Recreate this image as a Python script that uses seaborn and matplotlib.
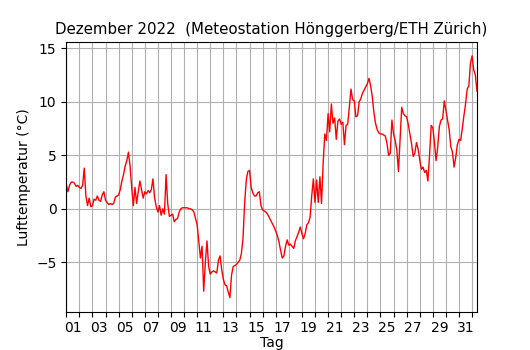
import numpy as np
import pandas as pd
import matplotlib
matplotlib.use("Agg")
import matplotlib.pyplot as plt
import matplotlib.dates as mdates
import seaborn as sns

temp_dec = [
    2.3, 1.6, 2.2, 2.5, 2.5, 2.4, 2.1, 2.2,      # 01
    2.0, 1.9, 2.2, 3.8, 1.2, 0.3, 1.0, 0.2,      # 02
    0.3, 0.9, 0.8, 1.2, 0.8, 0.7, 1.3, 1.6,      # 03
    0.8, 0.6, 0.4, 0.5, 0.4, 0.5, 1.1, 1.2,      # 04
    1.3, 1.8, 2.6, 3.2, 4.0, 4.5, 5.3, 4.0,      # 05
    2.0, 0.3, 2.0, 0.5, 1.6, 2.6, 1.8, 1.0,      # 06
    1.6, 1.4, 1.7, 1.5, 1.8, 2.8, 1.0, 0.2,      # 07
    -0.3, 0.3, -0.6, 0.0, -0.5, 3.2, 0.5, -0.7,  # 08
    -0.6, -0.5, -1.2, -1.0, -0.9, -0.3, 0.0, 0.1,  # 09
    0.1, 0.1, 0.1, 0.0, 0.0, -0.1, -0.3, -0.9,   # 10
    -1.5, -3.0, -4.6, -3.5, -7.7, -5.0, -3.0, -5.4,  # 11
    -6.1, -5.9, -5.8, -5.9, -6.0, -4.8, -4.4, -5.7,  # 12
    -6.6, -7.1, -7.2, -7.8, -8.3, -6.2, -5.4, -5.3,  # 13
    -5.2, -5.0, -4.8, -4.2, -2.8, 0.5, 2.7, 3.5,     # 14
    3.6, 2.0, 1.5, 1.2, 1.2, 1.5, 1.6, 0.3,          # 15
    -0.1, -0.2, -0.3, -0.5, -0.8, -1.1, -1.4, -1.7,  # 16
    -2.1, -2.5, -3.1, -3.9, -4.6, -4.4, -3.5, -2.9,  # 17
    -3.4, -3.3, -3.5, -3.7, -3.0, -2.6, -2.2, -1.7,  # 18
    -2.3, -2.8, -2.3, -1.5, -1.3, -0.8, 1.2, 2.8,    # 19
    0.6, 2.7, 0.6, 3.0, 0.5, 4.3, 7.0, 6.4,          # 20
    8.9, 7.2, 9.8, 8.0, 8.5, 6.5, 8.2, 8.4,          # 21
    7.9, 8.1, 6.0, 7.8, 7.9, 9.5, 11.2, 10.2,        # 22
    10.1, 8.6, 8.7, 10.0, 10.3, 10.8, 11.1, 11.4,    # 23
    11.7, 12.2, 11.5, 10.5, 9.0, 8.0, 7.4, 7.1,      # 24
    7.0, 7.0, 6.9, 6.8, 6.1, 5.0, 5.2, 8.3,          # 25
    7.0, 6.4, 5.5, 3.5, 6.5, 9.5, 8.9, 8.7,          # 26
    8.6, 7.9, 7.0, 6.1, 4.9, 5.2, 6.2, 5.6,          # 27
    4.6, 3.7, 3.9, 3.4, 3.6, 2.6, 5.0, 7.8,          # 28
    7.6, 6.2, 4.5, 5.8, 7.7, 8.3, 8.4, 10.1,         # 29
    9.2, 8.3, 7.4, 5.8, 5.3, 3.9, 4.8, 6.0,          # 30
    6.5, 6.4, 7.5, 8.7, 9.8, 11.2, 11.5, 13.6,       # 31
]
temp_jan = [14.3, 13.0, 12.5, 11.0]                   # 1.1.2023 bis 09 Uhr

temps = temp_dec + temp_jan
times = pd.date_range("2022-12-01 00:00", periods=len(temps), freq="3h")
df = pd.DataFrame({"Zeit": times, "Temperatur": temps})

fig, ax = plt.subplots(figsize=(5.3, 3.5), dpi=100)
sns.lineplot(data=df, x="Zeit", y="Temperatur", color="red", linewidth=1.0, ax=ax)

# Tagesgrenzen als Gitter, Beschriftung am Mittag jedes ungeraden Tages
ax.xaxis.set_major_locator(mdates.DayLocator())
ax.xaxis.set_major_formatter(plt.NullFormatter())
ax.xaxis.set_minor_locator(mdates.HourLocator(byhour=12))
ax.xaxis.set_minor_formatter(plt.FuncFormatter(
    lambda v, p: mdates.num2date(v).strftime("%d") if mdates.num2date(v).day % 2 == 1
    and mdates.num2date(v).month == 12 else ""))
ax.tick_params(axis="x", which="minor", length=0, pad=7)
ax.grid(True, which="major", color="#b0b0b0", linewidth=0.8)

ax.set_xlim(times[0], times[-1])
ax.set_ylim(-9.6, 15.6)
ax.set_xlabel("Tag", labelpad=0.5)
ax.set_ylabel("Lufttemperatur (°C)")
ax.set_title("Dezember 2022  (Meteostation Hönggerberg/ETH Zürich)", fontsize=10.8)

fig.subplots_adjust(left=0.125, right=0.9, top=0.88, bottom=0.11)
fig.savefig("out.png", dpi=100)
